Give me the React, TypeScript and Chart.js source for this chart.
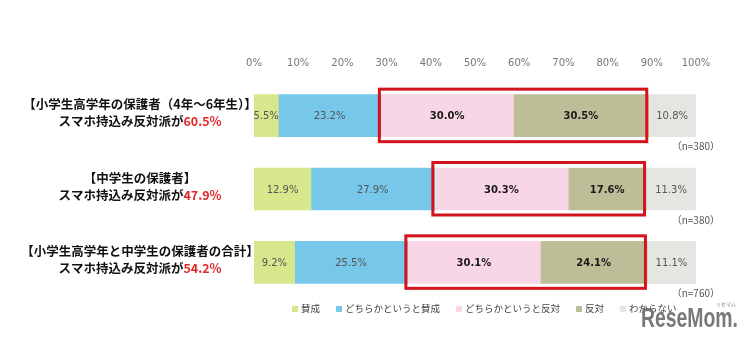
import React, { useEffect, useRef } from "react";
import { Chart, registerables } from "chart.js";

Chart.register(...registerables);

const catLine1 = [
  "【小学生高学年の保護者（4年～6年生）】",
  "【中学生の保護者】",
  "【小学生高学年と中学生の保護者の合計】",
];
const catLine2 = ["スマホ持込み反対派が", "スマホ持込み反対派が", "スマホ持込み反対派が"];
const catPct = ["60.5%", "47.9%", "54.2%"];
const nLabels = ["（n=380）", "（n=380）", "（n=760）"];

const seriesNames = ["賛成", "どちらかというと賛成", "どちらかというと反対", "反対", "わからない"];
const agree = [5.5, 12.9, 9.2];
const ratherAgree = [23.2, 27.9, 25.5];
const ratherOppose = [30.0, 30.3, 30.1];
const oppose = [30.5, 17.6, 24.1];
const dontKnow = [10.8, 11.3, 11.1];

const colors = ["#d7e78b", "#76c7e9", "#f8d6e5", "#bdbd97", "#e5e5e1"];
const boldSeries = [false, false, true, true, false];
const CJK = '"Noto Sans CJK JP", "Noto Sans", sans-serif';

const overlay = {
  id: "overlay",
  afterDatasetsDraw(chart: any) {
    const ctx = chart.ctx;
    ctx.save();
    chart.data.datasets.forEach((ds: any, di: number) => {
      const meta = chart.getDatasetMeta(di);
      meta.data.forEach((el: any, i: number) => {
        const v = ds.data[i];
        const cx = (el.x + el.base) / 2;
        ctx.font = (boldSeries[di] ? "bold " : "") + '10px "DejaVu Sans", sans-serif';
        ctx.fillStyle = boldSeries[di] ? "#1a1a1a" : "#555";
        ctx.textAlign = "center";
        ctx.textBaseline = "middle";
        ctx.fillText(v.toFixed(1) + "%", cx, el.y + 1);
      });
    });
    const m2 = chart.getDatasetMeta(2);
    const m3 = chart.getDatasetMeta(3);
    m2.data.forEach((el: any, i: number) => {
      const el3 = m3.data[i];
      const left = Math.min(el.base, el.x);
      const right = Math.max(el3.base, el3.x);
      const h = el.height;
      ctx.strokeStyle = "#d3141d";
      ctx.lineWidth = 3;
      ctx.strokeRect(left - 1.5, el.y - h / 2 - 5.5, right - left, h + 10.5);
    });
    ctx.restore();
  },
  afterDraw(chart: any) {
    const ctx = chart.ctx;
    const meta = chart.getDatasetMeta(0);
    ctx.save();
    meta.data.forEach((el: any, i: number) => {
      const cx = 140;
      ctx.textBaseline = "middle";
      ctx.font = "bold 12.5px " + CJK;
      ctx.fillStyle = "#111";
      ctx.textAlign = "center";
      ctx.fillText(catLine1[i], cx, el.y - 11);
      const w2 = ctx.measureText(catLine2[i]).width;
      const wp = ctx.measureText(catPct[i]).width;
      const sx = cx - (w2 + wp) / 2;
      ctx.textAlign = "left";
      ctx.fillText(catLine2[i], sx, el.y + 6);
      ctx.fillStyle = "#e0262b";
      ctx.fillText(catPct[i], sx + w2, el.y + 6);
      ctx.font = "10px " + CJK;
      ctx.fillStyle = "#555";
      ctx.textAlign = "right";
      ctx.fillText(nLabels[i], 720, el.y + el.height / 2 + 10);
    });
    let x = 292;
    const ly = 308;
    ctx.font = "9.5px " + CJK;
    ctx.textBaseline = "middle";
    ctx.textAlign = "left";
    seriesNames.forEach((name, i) => {
      ctx.fillStyle = colors[i];
      ctx.fillRect(x, ly - 2, 6, 6);
      x += 9;
      ctx.fillStyle = "#444";
      ctx.fillText(name, x, ly);
      x += ctx.measureText(name).width + 16;
    });
    // watermark
    ctx.fillStyle = "rgba(110,110,110,0.92)";
    ctx.font = 'bold 28px "Liberation Sans", sans-serif';
    ctx.textAlign = "left";
    ctx.textBaseline = "alphabetic";
    const wm = "ReseMom.";
    const ww = ctx.measureText(wm).width;
    ctx.save();
    ctx.translate(641, 327);
    ctx.scale(97 / ww, 1);
    ctx.fillText(wm, 0, 0);
    ctx.restore();
    ctx.font = "5px " + CJK;
    ctx.fillText("リセマム", 716, 306);
    ctx.restore();
  },
};

export default function App() {
  const ref = useRef<HTMLCanvasElement>(null);
  useEffect(() => {
    const data = [agree, ratherAgree, ratherOppose, oppose, dontKnow];
    const chart = new Chart(ref.current!, {
      type: "bar",
      data: {
        labels: catLine1,
        datasets: data.map((d, i) => ({
          label: seriesNames[i],
          data: d,
          backgroundColor: colors[i],
          borderWidth: 0,
          barThickness: 42,
        })),
      },
      options: {
        indexAxis: "y",
        animation: false,
        responsive: false,
        maintainAspectRatio: false,
        layout: { padding: { left: 254, right: 56, top: 47, bottom: 40 } },
        plugins: { legend: { display: false }, tooltip: { enabled: false } },
        scales: {
          x: {
            position: "top",
            stacked: true,
            min: 0,
            max: 100,
            grid: { display: false, drawTicks: false },
            border: { display: false },
            ticks: {
              stepSize: 10,
              padding: 10,
              color: "#777",
              font: { size: 10, family: '"DejaVu Sans", sans-serif' },
              callback: (v: any) => v + "%",
            },
          },
          y: { stacked: true, display: false },
        },
      },
      plugins: [overlay],
    });
    return () => chart.destroy();
  }, []);
  return (
    <div style={{ position: "fixed", left: 0, top: 0, width: 752, height: 339, background: "#fff" }}>
      <canvas ref={ref} width={752} height={339} style={{ width: 752, height: 339 }} />
    </div>
  );
}
